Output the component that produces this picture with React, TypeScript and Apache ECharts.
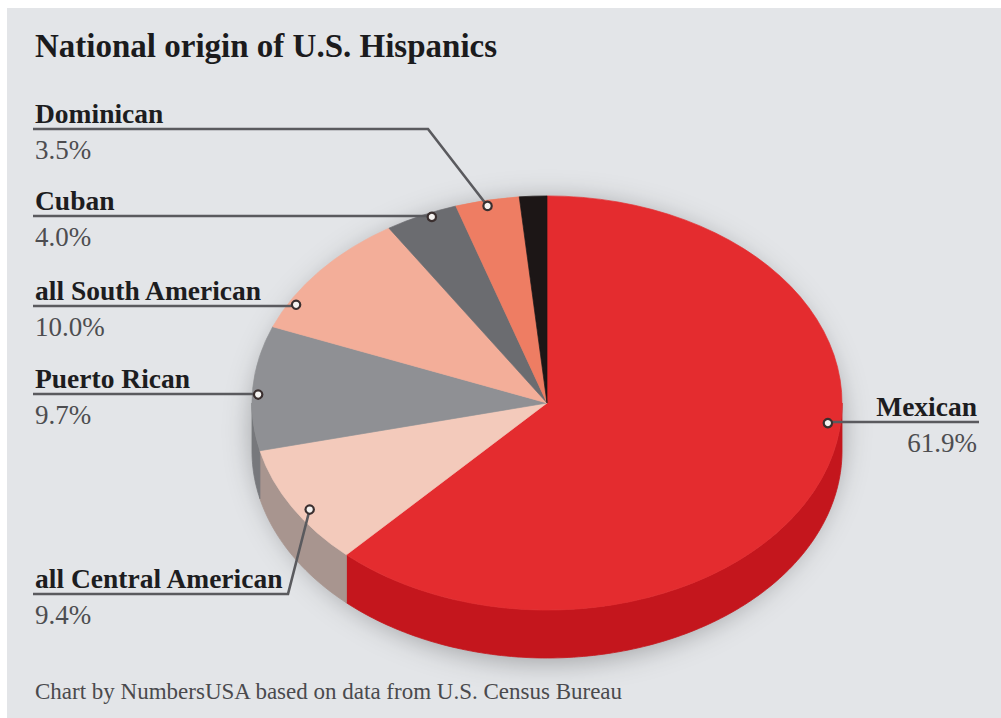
import React, { useEffect, useRef } from 'react';
import * as echarts from 'echarts';

// ---- data ----
const categories = ['Mexican', 'all Central American', 'Puerto Rican', 'all South American', 'Cuban', 'Dominican', 'Other'];
const shares = [61.9, 9.4, 9.7, 10.0, 4.0, 3.5, 1.5];
const showLabel = [true, true, true, true, true, true, false];
const titleText = 'National origin of U.S. Hispanics';
const sourceText = 'Chart by NumbersUSA based on data from U.S. Census Bureau';

// ---- styles ----
const topColors = ['#e42c2f', '#f3cabb', '#8f9094', '#f3ae99', '#6b6c70', '#ee7d63', '#1c1616'];
const sideColors = ['#c4161d', '#a8958f', '#77787c', '#c98f7d', '#55565a', '#c86550', '#0e0a0a'];

// ---- layout ----
const PIE = { cx: 547, cy: 403, rx: 295, ry: 207, depth: 48 };
type LL = { side: 'left' | 'right'; x: number; lineY: number; elbowX?: number; frac: number; r: number } | null;
const labelLayout: LL[] = [
  { side: 'right', x: 979, lineY: 422, frac: 0.43, r: 0.957 },
  { side: 'left', x: 33, lineY: 594, elbowX: 288, frac: 0.43, r: 0.955 },
  { side: 'left', x: 33, lineY: 394, frac: 0.45, r: 0.98 },
  { side: 'left', x: 33, lineY: 306, frac: 0.21, r: 0.974 },
  { side: 'left', x: 33, lineY: 216, frac: 0.62, r: 0.98 },
  { side: 'left', x: 33, lineY: 129, elbowX: 428, frac: 0.48, r: 0.973 },
  null,
];

const FONT = "'Liberation Serif', 'Times New Roman', serif";

function sliceAngles(): [number, number][] {
  const total = shares.reduce((a, b) => a + b, 0);
  let acc = 0;
  return shares.map((v) => {
    const s = (acc / total) * 360;
    acc += v;
    return [s, (acc / total) * 360];
  });
}

const deg = (d: number) => (d * Math.PI) / 180;
const pt = (theta: number, r: number, dy = 0): [number, number] => [
  PIE.cx + r * PIE.rx * Math.sin(deg(theta)),
  PIE.cy - r * PIE.ry * Math.cos(deg(theta)) + dy,
];

export default function App() {
  const ref = useRef<HTMLDivElement>(null);
  useEffect(() => {
    document.body.style.margin = '0';
    document.body.style.overflow = 'hidden';
    if (!ref.current) return;
    const chart = echarts.init(ref.current, null, { renderer: 'svg' });
    const angles = sliceAngles();
    const data = shares.map((v, i) => ({ name: categories[i], value: v }));

    const graphics: any[] = [
      { type: 'rect', z: -10, silent: true, shape: { x: 7, y: 8, width: 994, height: 710 }, style: { fill: '#e3e5e8' } },
      {
        type: 'ellipse', z: -5, silent: true,
        shape: { cx: PIE.cx, cy: PIE.cy + PIE.depth / 2, rx: PIE.rx, ry: PIE.ry + PIE.depth / 2 },
        style: { fill: '#c9cbcf', shadowBlur: 28, shadowColor: 'rgba(0,0,0,0.3)', shadowOffsetY: 4 },
      },
      {
        type: 'text', z: 10, silent: true, left: 35, top: 29,
        style: { text: titleText, font: `bold 33px ${FONT}`, fill: '#1b1b1d' },
      },
      {
        type: 'text', z: 10, silent: true, left: 35, top: 680,
        style: { text: sourceText, font: `23px ${FONT}`, fill: '#4a4a4d' },
      },
    ];

    shares.forEach((v, i) => {
      const L = labelLayout[i];
      if (!showLabel[i] || !L) return;
      const [s, e] = angles[i];
      const theta = s + L.frac * (e - s);
      const [dx, dy] = pt(theta, L.r);
      let points: number[][];
      if (L.side === 'left') {
        points = L.elbowX != null
          ? [[L.x, L.lineY], [L.elbowX, L.lineY], [dx, dy]]
          : [[L.x, L.lineY], [dx - 6, L.lineY], [dx, dy]];
      } else {
        points = [[dx, dy], [dx + 6, L.lineY], [L.x, L.lineY]];
      }
      graphics.push({
        type: 'polyline', z: 11, silent: true,
        shape: { points },
        style: { stroke: '#5a5a5e', lineWidth: 2.6, fill: null },
      });
      graphics.push({
        type: 'circle', z: 12, silent: true,
        shape: { cx: dx, cy: dy, r: 4.2 },
        style: { fill: '#f4f2f0', stroke: '#3a2f2f', lineWidth: 2.2 },
      });
      const align = L.side === 'left' ? 'left' : 'right';
      const tx = L.side === 'left' ? L.x + 2 : L.x - 2;
      graphics.push({
        type: 'text', z: 12, silent: true, x: tx, y: L.lineY - 16,
        style: { text: categories[i], font: `bold 27.5px ${FONT}`, fill: '#1d1d1f', align, verticalAlign: 'middle' },
      });
      graphics.push({
        type: 'text', z: 12, silent: true, x: tx, y: L.lineY + 21,
        style: { text: v.toFixed(1) + '%', font: `27px ${FONT}`, fill: '#4d4d50', align, verticalAlign: 'middle' },
      });
    });

    const option: any = {
      animation: false,
      tooltip: { show: false },
      graphic: graphics,
      series: [
        {
          type: 'custom', name: 'sides', coordinateSystem: 'none', silent: true, z: 2,
          data,
          renderItem: (params: any) => {
            const i = params.dataIndex;
            const [s, e] = angles[i];
            const a = Math.max(s, 90);
            const b = Math.min(e, 270);
            if (b <= a) return { type: 'group', children: [] };
            const top: number[][] = [];
            const bottom: number[][] = [];
            const steps = Math.max(2, Math.ceil(b - a));
            for (let k = 0; k <= steps; k++) {
              const t = a + ((b - a) * k) / steps;
              top.push(pt(t, 1));
              bottom.push(pt(t, 1, PIE.depth));
            }
            const points = top.concat(bottom.reverse());
            return {
              type: 'polygon',
              shape: { points },
              style: { fill: sideColors[i], stroke: sideColors[i], lineWidth: 0.8 },
            };
          },
        },
        {
          type: 'custom', name: 'tops', coordinateSystem: 'none', silent: true, z: 3,
          data,
          renderItem: (params: any) => {
            const i = params.dataIndex;
            const [s, e] = angles[i];
            return {
              type: 'group', x: PIE.cx, y: PIE.cy, scaleY: PIE.ry / PIE.rx,
              children: [
                {
                  type: 'sector',
                  shape: { cx: 0, cy: 0, r: PIE.rx, r0: 0, startAngle: deg(s - 90), endAngle: deg(e - 90), clockwise: true },
                  style: { fill: topColors[i], stroke: topColors[i], lineWidth: 0.8 },
                },
              ],
            };
          },
        },
      ],
    };
    chart.setOption(option);
    return () => chart.dispose();
  }, []);
  return <div ref={ref} style={{ width: 1001, height: 718 }} />;
}
